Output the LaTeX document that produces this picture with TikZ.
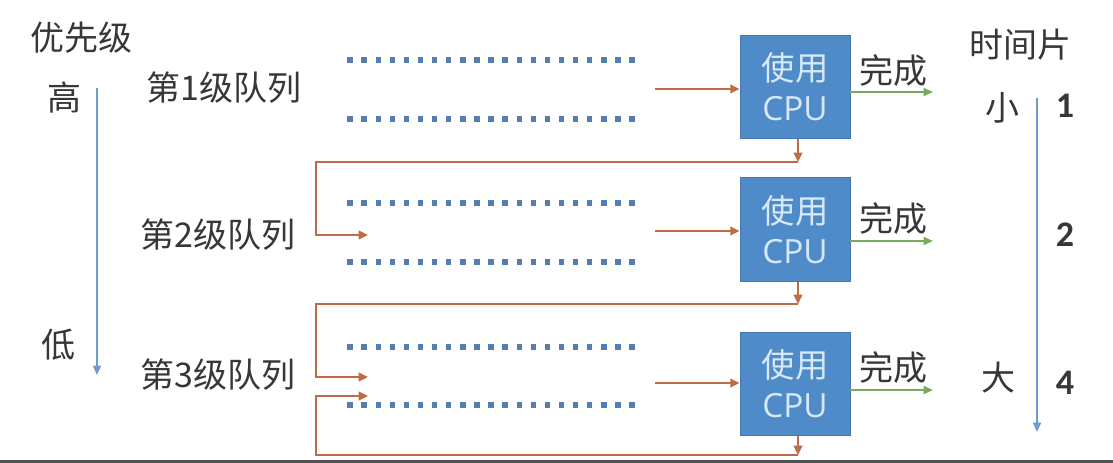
\documentclass[tikz,border=0pt]{standalone}
\usepackage{fontspec}
\setmainfont{Noto Sans CJK SC}
\newfontfamily\cpufont{Open Sans}
\newfontfamily\numfont{Carlito}
\usetikzlibrary{arrows.meta}
\definecolor{boxblue}{RGB}{79,139,201}
\definecolor{boxedge}{RGB}{70,120,175}
\definecolor{boxtext}{RGB}{215,232,248}
\definecolor{orangeline}{RGB}{190,108,72}
\definecolor{greenline}{RGB}{120,170,95}
\definecolor{axisblue}{RGB}{110,155,210}
\definecolor{dotblue}{RGB}{85,125,178}
\definecolor{txt}{RGB}{55,55,55}
\begin{document}
\begin{tikzpicture}[x=0.75pt,y=-0.75pt,
  lbl/.style={text=txt,inner sep=0pt,font=\fontsize{25.5pt}{30pt}\selectfont},
  numlbl/.style={text=txt,inner sep=0pt,font=\numfont\bfseries\fontsize{27pt}{30pt}\selectfont},
  cpubox/.style={fill=boxblue,draw=boxedge,line width=0.6pt,minimum width=82.5pt,minimum height=77.5pt,inner sep=0pt,text=boxtext,align=center,font=\fontsize{25pt}{30pt}\selectfont},
  feed/.style={draw=orangeline,line width=1.4pt,-{Triangle[length=7pt,width=6.5pt]}},
  done/.style={draw=greenline,line width=1.4pt,-{Triangle[length=7pt,width=6pt]}},
  axis/.style={draw=axisblue,line width=1.2pt,-{Triangle[length=7pt,width=6pt]}},
]
\useasboundingbox (0,0) rectangle (1113,463);
\fill[white] (0,0) rectangle (1113,463);
\fill[black!68] (0,460) rectangle (1113,463);

% left priority axis
\node[lbl] (prio) at (82,38) {优先级};
\node[lbl] (high) at (64,98) {高};
\node[lbl] (low) at (58,345) {低};
\coordinate (pa1) at (97,88);
\coordinate (pa2) at (97,375);
\draw[axis] (pa1) -- (pa2);

% queue labels
\node[lbl] (q1) at (224,88) {第1级队列};
\node[lbl] (q2) at (218,235) {第2级队列};
\node[lbl] (q3) at (218,375) {第3级队列};

% dotted queue lines
\foreach \yy in {60,119,203,262,347,405}{
  \foreach \i in {0,...,20}{
    \fill[dotblue] ({350+14.1*\i-2.7},{\yy-2.7}) rectangle ++(5.4,5.4);
  }
}

% CPU boxes
\node[cpubox] (cpu1) at (795,87) {使用\\{\cpufont CPU}};
\node[cpubox] (cpu2) at (795,229.5) {使用\\{\cpufont CPU}};
\node[cpubox] (cpu3) at (795,384) {使用\\{\cpufont CPU}};

% incoming arrows
\coordinate (in1) at (655,89);
\coordinate (in2) at (655,231);
\coordinate (in3) at (655,383);
\draw[feed] (in1) -- (in1 -| cpu1.west);
\draw[feed] (in2) -- (in2 -| cpu2.west);
\draw[feed] (in3) -- (in3 -| cpu3.west);

% done arrows
\coordinate (out1) at (933,92);
\coordinate (out2) at (933,241);
\coordinate (out3) at (933,390);
\draw[done] (out1 -| cpu1.east) -- (out1);
\draw[done] (out2 -| cpu2.east) -- (out2);
\draw[done] (out3 -| cpu3.east) -- (out3);
\node[lbl] (d1) at (893,71) {完成};
\node[lbl] (d2) at (893,219) {完成};
\node[lbl] (d3) at (893,368) {完成};

% feedback loops
\coordinate (f1) at (798,162);
\coordinate (f2) at (798,304);
\coordinate (f3) at (798,455);
\coordinate (c1) at (316,162);
\coordinate (c2) at (316,304);
\coordinate (c3) at (316,455);
\coordinate (e1) at (368,235);
\coordinate (e2) at (368,377);
\coordinate (e3) at (368,396);
\draw[feed] (f1 |- cpu1.south) -- (f1);
\draw[feed] (f2 |- cpu2.south) -- (f2);
\draw[feed] (f3 |- cpu3.south) -- (f3);
\draw[feed] (f1) -- (c1) -- (c1 |- e1) -- (e1);
\draw[feed] (f2) -- (c2) -- (c2 |- e2) -- (e2);
\draw[feed] (f3) -- (c3) -- (c3 |- e3) -- (e3);

% right time-slice axis
\node[lbl] (ts) at (1020,45) {时间片};
\node[lbl] (small) at (1002,108) {小};
\node[lbl] (big) at (998,378) {大};
\coordinate (ta1) at (1037,98);
\coordinate (ta2) at (1037,432);
\draw[axis] (ta1) -- (ta2);
\node[numlbl] (n1) at (1065,106) {1};
\node[numlbl] (n2) at (1065,235) {2};
\node[numlbl] (n4) at (1065,383) {4};
\end{tikzpicture}
\end{document}
